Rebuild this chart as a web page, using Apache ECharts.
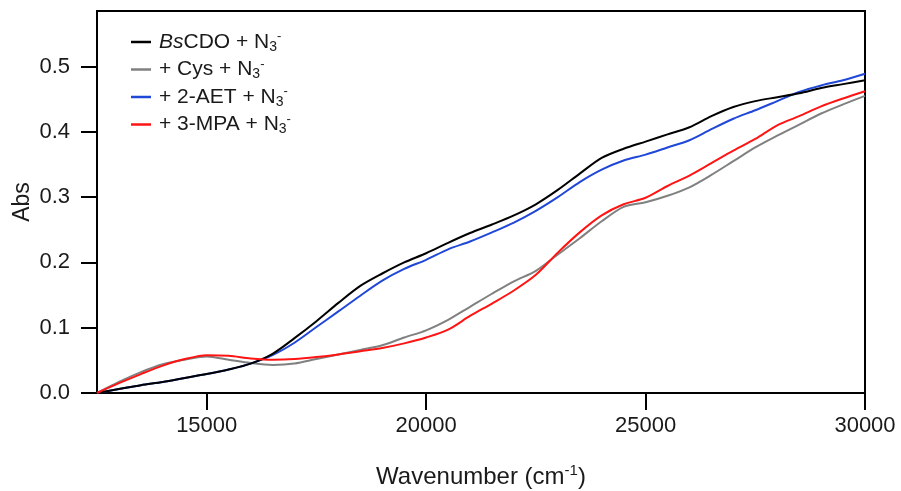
<!DOCTYPE html>
<html>
<head>
<meta charset="utf-8">
<script src="https://cdn.jsdelivr.net/npm/echarts@6/dist/echarts.min.js"></script>
<style>html,body{margin:0;padding:0;background:#fff}#c{width:901px;height:491px}</style>
</head>
<body>
<div id="c"></div>
<script>
var wavenumbers = [12500,13000,13500,14000,14500,15000,15500,16000,16500,17000,17500,18000,18500,19000,19500,20000,20500,21000,21500,22000,22500,23000,23500,24000,24500,25000,25500,26000,26500,27000,27500,28000,28500,29000,29500,30000];
var bsCDO = [0,0.006,0.012,0.017,0.023,0.029,0.036,0.045,0.060,0.084,0.110,0.138,0.164,0.183,0.200,0.214,0.230,0.245,0.258,0.272,0.289,0.311,0.336,0.360,0.374,0.385,0.396,0.407,0.424,0.438,0.447,0.453,0.459,0.467,0.473,0.479];
var cys = [0,0.017,0.032,0.044,0.051,0.056,0.051,0.046,0.043,0.045,0.052,0.059,0.066,0.073,0.085,0.096,0.112,0.132,0.152,0.171,0.187,0.212,0.237,0.263,0.285,0.292,0.302,0.315,0.334,0.355,0.376,0.394,0.411,0.428,0.442,0.455];
var aet = [0,0.006,0.012,0.017,0.023,0.029,0.036,0.045,0.058,0.077,0.101,0.125,0.149,0.172,0.190,0.204,0.220,0.232,0.246,0.261,0.279,0.300,0.323,0.342,0.356,0.365,0.376,0.387,0.404,0.420,0.433,0.447,0.461,0.471,0.479,0.489];
var mpa = [0,0.015,0.029,0.042,0.052,0.058,0.057,0.053,0.051,0.052,0.055,0.059,0.064,0.069,0.076,0.085,0.097,0.118,0.137,0.157,0.181,0.215,0.246,0.272,0.289,0.299,0.317,0.333,0.352,0.371,0.389,0.410,0.424,0.439,0.451,0.462];
var seriesNames = ['BsCDO + N3-','+ Cys + N3-','+ 2-AET + N3-','+ 3-MPA + N3-'];
var legendLabels = ['{it|Bs}{n|CDO + N}{sub|3}{sup|-}','{n|+ Cys + N}{sub|3}{sup|-}','{n|+ 2-AET + N}{sub|3}{sup|-}','{n|+ 3-MPA + N}{sub|3}{sup|-}'];
var yTicks = [0,0.1,0.2,0.3,0.4,0.5];
var xTicks = [15000,20000,25000,30000];
var colors = ['#000000','#808080','#1f47d8','#ff1414'];
var values = [bsCDO, cys, aet, mpa];

var FONT = "'Liberation Sans', Arial, sans-serif";
var TXT = '#1a1a1a';
var chart = echarts.init(document.getElementById('c'), null, {renderer:'canvas'});
var series = seriesNames.map(function(name, i){
  return {
    name: name, type: 'line', showSymbol: false, smooth: 0.3,
    lineStyle: {color: colors[i], width: 2},
    itemStyle: {color: colors[i]},
    data: wavenumbers.map(function(w, j){ return [w, values[i][j]]; }),
    z: 2 + (i===0 ? 3 : i)
  };
});
chart.setOption({
  animation: false,
  backgroundColor: '#fff',
  grid: {left: 97, right: 36, top: 11, bottom: 98, show: true, borderColor: '#000', borderWidth: 2,
    containLabel: false, outerBoundsMode: 'none'},
  legend: {
    orient: 'vertical', left: 126, top: 25, itemWidth: 20, itemHeight: 2.5, itemGap: 3.5,
    icon: 'rect', data: seriesNames,
    textStyle: {fontFamily: FONT, color: TXT, padding: [0,0,0,3],
      rich: {
        n: {fontFamily: FONT, fontSize: 21, color: TXT, lineHeight: 24},
        it: {fontFamily: FONT, fontSize: 21, color: TXT, lineHeight: 24, fontStyle: 'italic'},
        sub: {fontFamily: FONT, fontSize: 14, color: TXT, lineHeight: 14, verticalAlign: 'bottom'},
        sup: {fontFamily: FONT, fontSize: 13, color: TXT, lineHeight: 14, verticalAlign: 'top'}
      }},
    formatter: function(name){ return legendLabels[seriesNames.indexOf(name)]; }
  },
  xAxis: {
    type: 'value', min: 12500, max: 30000,
    name: '{n|Wavenumber (cm}{sup|-1}{n|)}', nameLocation: 'middle', nameGap: 70, nameMoveOverlap: false,
    nameTextStyle: {rich: {
      n: {fontFamily: FONT, fontSize: 24, color: TXT, lineHeight: 28},
      sup: {fontFamily: FONT, fontSize: 15, color: TXT, lineHeight: 16, verticalAlign: 'top'}
    }},
    axisLine: {show: true, onZero: false, lineStyle: {color: '#000', width: 2}},
    axisTick: {show: true, inside: false, length: 17, lineStyle: {color: '#000', width: 2}, customValues: xTicks},
    axisLabel: {fontFamily: FONT, fontSize: 22, color: TXT, margin: 22, customValues: xTicks,
      formatter: function(v){ return String(v); }},
    splitLine: {show: false}
  },
  yAxis: {
    type: 'value', min: 0, max: 0.585,
    name: 'Abs', nameLocation: 'middle', nameGap: 63, nameMoveOverlap: false,
    nameTextStyle: {fontFamily: FONT, fontSize: 23, color: TXT},
    axisLine: {show: true, onZero: false, lineStyle: {color: '#000', width: 2}},
    axisTick: {show: true, inside: false, length: 16, lineStyle: {color: '#000', width: 2}, customValues: yTicks},
    axisLabel: {fontFamily: FONT, fontSize: 22, color: TXT, margin: 27, customValues: yTicks,
      formatter: function(v){ return v.toFixed(1); }},
    splitLine: {show: false}
  },
  series: series
});
</script>
</body>
</html>
